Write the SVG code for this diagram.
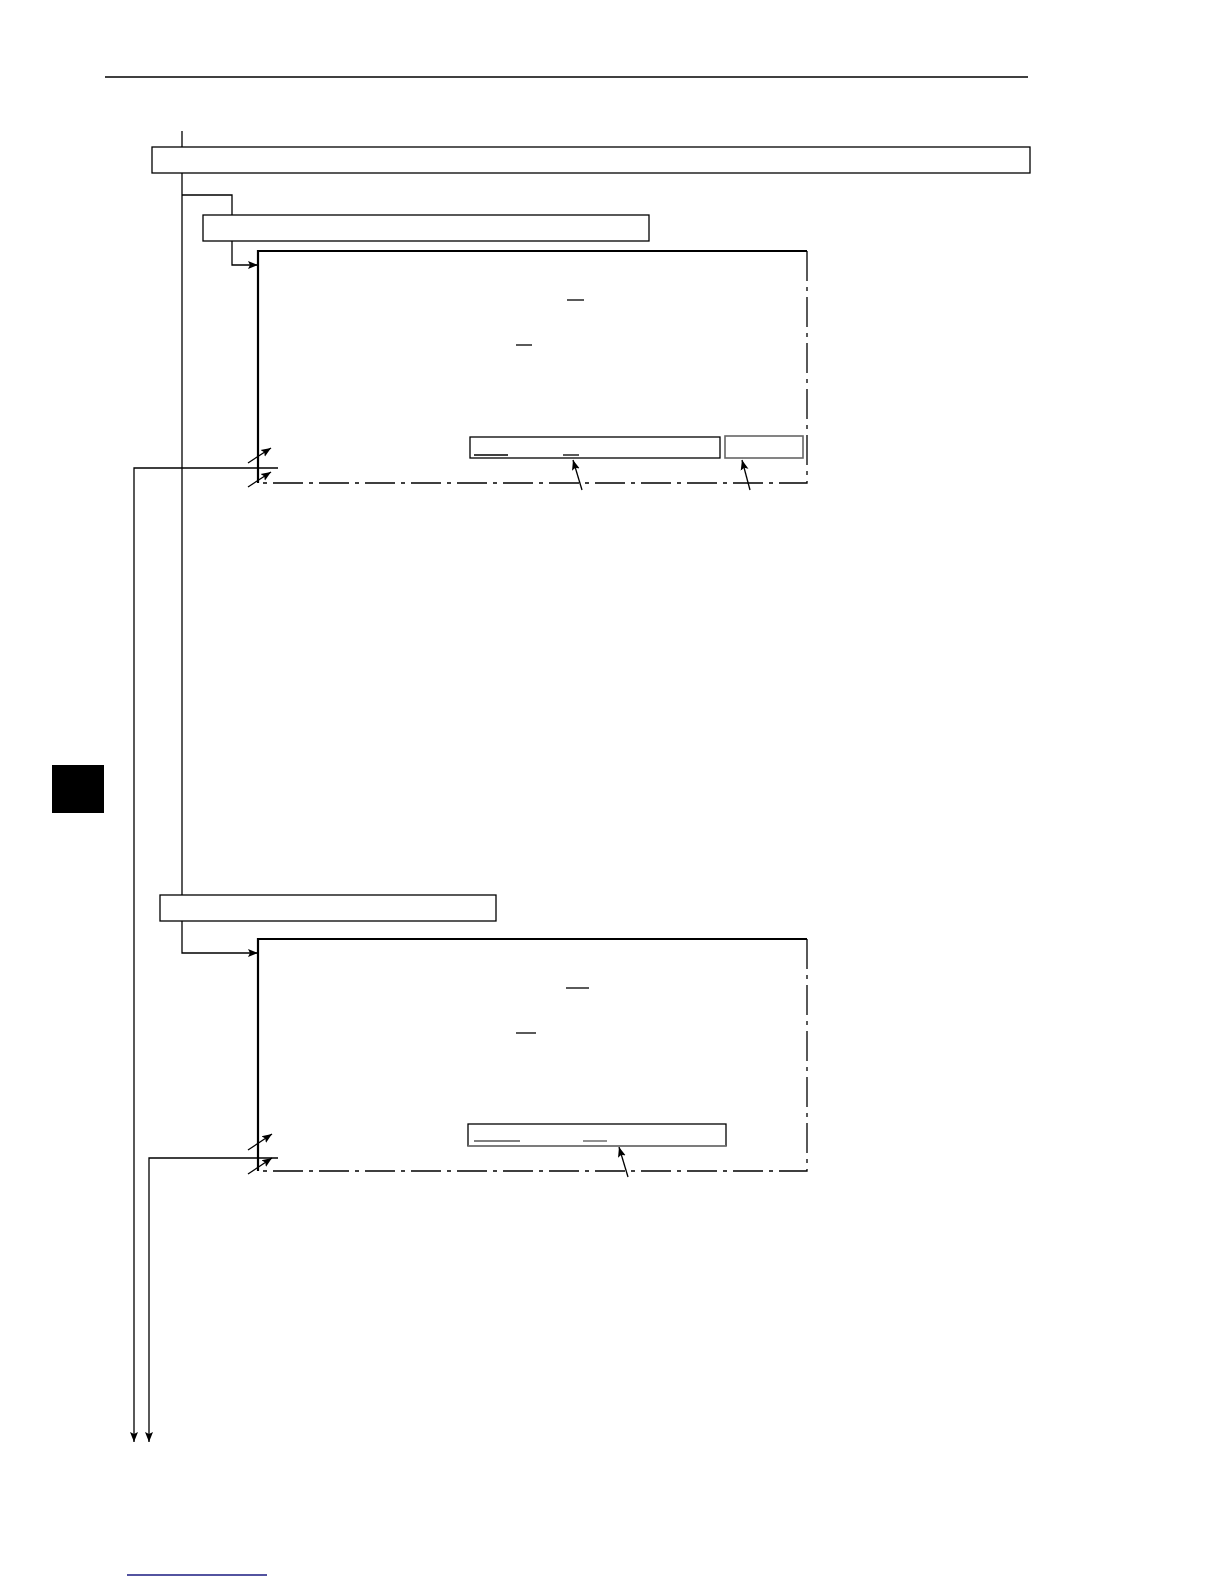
<svg xmlns="http://www.w3.org/2000/svg" width="1224" height="1584" viewBox="0 0 1224 1584">
<style>
.ln{stroke:#000;stroke-width:1.3;fill:none}
.bx{stroke:#000;stroke-width:1.3;fill:#fff}
.scr{stroke:#000;stroke-width:2.2;fill:none}
.dd{stroke:#000;stroke-width:1.3;fill:none;stroke-dasharray:30 6 4 6}
.ul{stroke:#000;stroke-width:1.3}
.gb{stroke:#666;stroke-width:1.6;fill:#fff}
</style>
<defs>
<marker id="ah" viewBox="0 0 10 10" refX="10" refY="5" markerWidth="10" markerHeight="10" markerUnits="userSpaceOnUse" orient="auto">
<path d="M0,1 L10,5 L0,9 L2,5 Z" fill="#000"/>
</marker>
</defs>
<rect width="1224" height="1584" fill="#fff"/>
<line x1="105" y1="77" x2="1028" y2="77" class="ln"/>
<rect x="52" y="765" width="52" height="48" fill="#000"/>
<line x1="127" y1="1575" x2="267" y2="1575" stroke="#1a1a80" stroke-width="1.5"/>
<g id="connectors">
<line x1="182" y1="131" x2="182" y2="147" class="ln"/>
<line x1="182" y1="173" x2="182" y2="895" class="ln"/>
<polyline points="182,195 232,195 232,215" class="ln"/>
<polyline points="232,241 232,265 258,265" class="ln" marker-end="url(#ah)"/>
<polyline points="182,921 182,953 258,953" class="ln" marker-end="url(#ah)"/>
<polyline points="278,468 134,468 134,1442" class="ln" marker-end="url(#ah)"/>
<polyline points="278,1158 149,1158 149,1442" class="ln" marker-end="url(#ah)"/>
<line x1="248" y1="463" x2="271" y2="448" class="ln" marker-end="url(#ah)"/>
<line x1="248" y1="487" x2="271" y2="472" class="ln" marker-end="url(#ah)"/>
<line x1="582" y1="490" x2="573" y2="460" class="ln" marker-end="url(#ah)"/>
<line x1="750" y1="490" x2="742" y2="460" class="ln" marker-end="url(#ah)"/>
<line x1="248" y1="1174" x2="272" y2="1158" class="ln" marker-end="url(#ah)"/>
<line x1="248" y1="1150" x2="272" y2="1134" class="ln" marker-end="url(#ah)"/>
<line x1="628" y1="1177" x2="619" y2="1147" class="ln" marker-end="url(#ah)"/>
</g>
<g id="box1"><rect x="152" y="147" width="878" height="26" class="bx"/></g>
<g id="box2"><rect x="203" y="215" width="446" height="26" class="bx"/></g>
<g id="screen1">
<polyline points="258,483 258,251 807,251" class="scr"/>
<polyline points="807,251 807,483 258,483" class="dd"/>
<line x1="567" y1="300" x2="584" y2="300" class="ul"/>
<line x1="516" y1="345" x2="532" y2="345" class="ul"/>
<rect x="470" y="437" width="250" height="21" class="bx"/>
<line x1="474" y1="455" x2="508" y2="455" class="ul"/>
<line x1="563" y1="455" x2="579" y2="455" class="ul"/>
<rect x="725" y="436" width="78" height="22" class="gb"/>
</g>
<g id="box3"><rect x="160" y="895" width="336" height="26" class="bx"/></g>
<g id="screen2">
<polyline points="258,1171 258,939 807,939" class="scr"/>
<polyline points="807,939 807,1171 258,1171" class="dd"/>
<line x1="566" y1="988" x2="589" y2="988" class="ul"/>
<line x1="516" y1="1033" x2="536" y2="1033" class="ul"/>
<rect x="468" y="1124" width="258" height="22" class="bx"/>
<line x1="468" y1="1146" x2="726" y2="1146" stroke="#888" stroke-width="1.5"/>
<line x1="474" y1="1141" x2="520" y2="1141" stroke="#555" stroke-width="1.3"/>
<line x1="583" y1="1141" x2="607" y2="1141" stroke="#555" stroke-width="1.3"/>
</g>
</svg>
